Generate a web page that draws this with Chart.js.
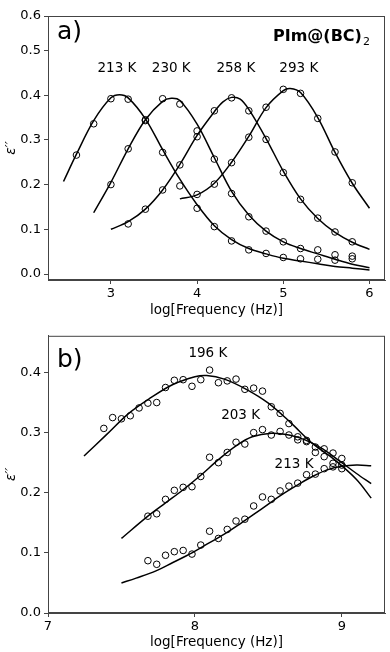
<!DOCTYPE html>
<html lang="en">
<head>
  <meta charset="UTF-8">
  <title>Dielectric loss peaks</title>
  <script src="https://cdn.jsdelivr.net/npm/chart.js"></script>
  <style>
    body {
      margin: 0;
      background: #fff;
      width: 390px;
      height: 652px;
      position: relative;
      overflow: hidden;
    }
    canvas {
      position: absolute;
      left: 0;
    }
    #chartA { top: 0; }
    #chartB { top: 325px; }
  </style>
</head>
<body>

  <canvas id="chartA" width="390" height="325"></canvas>
  <canvas id="chartB" width="390" height="327"></canvas>

  <script>
    // ---- panel a) ----
    const aTicksX = [3, 4, 5, 6];
    const aTicksY = [0, 0.1, 0.2, 0.3, 0.4, 0.5, 0.577];
    const aTickLabelsY = ["0.0", "0.1", "0.2", "0.3", "0.4", "0.5", "0.6"];

    const a213PtsX = [2.6, 2.8, 3.0, 3.2, 3.4, 3.6, 3.8, 4.0, 4.2, 4.4, 4.6, 4.8, 5.0, 5.2, 5.4, 5.6, 5.8];
    const a213PtsY = [0.266, 0.336, 0.392, 0.391, 0.345, 0.272, 0.197, 0.147, 0.106, 0.074, 0.054, 0.046, 0.037, 0.034, 0.033, 0.031, 0.034];
    const a230PtsX = [3.0, 3.2, 3.4, 3.6, 3.8, 4.0, 4.2, 4.4, 4.6, 4.8, 5.0, 5.2, 5.4, 5.6, 5.8];
    const a230PtsY = [0.200, 0.280, 0.343, 0.392, 0.380, 0.320, 0.257, 0.180, 0.128, 0.096, 0.072, 0.057, 0.054, 0.043, 0.040];
    const a258PtsX = [3.2, 3.4, 3.6, 3.8, 4.0, 4.2, 4.4, 4.6, 4.8, 5.0, 5.2, 5.4, 5.6, 5.8];
    const a258PtsY = [0.112, 0.145, 0.188, 0.244, 0.307, 0.365, 0.394, 0.365, 0.301, 0.227, 0.167, 0.125, 0.094, 0.072];
    const a293PtsX = [4.0, 4.2, 4.4, 4.6, 4.8, 5.0, 5.2, 5.4, 5.6, 5.8];
    const a293PtsY = [0.178, 0.201, 0.249, 0.306, 0.373, 0.413, 0.404, 0.348, 0.273, 0.204];

    const a213FitX = [2.45, 2.6, 2.8, 3.0, 3.1, 3.2, 3.4, 3.6, 3.8, 4.0, 4.2, 4.4, 4.6, 4.8, 5.0, 5.2, 5.4, 5.6, 5.8, 6.0];
    const a213FitY = [0.207, 0.268, 0.343, 0.394, 0.401, 0.394, 0.347, 0.278, 0.212, 0.155, 0.108, 0.077, 0.057, 0.045, 0.035, 0.029, 0.023, 0.017, 0.013, 0.009];
    const a230FitX = [2.8, 3.0, 3.2, 3.4, 3.6, 3.7, 3.8, 4.0, 4.2, 4.4, 4.6, 4.8, 5.0, 5.2, 5.4, 5.6, 5.8, 6.0];
    const a230FitY = [0.137, 0.205, 0.280, 0.345, 0.386, 0.393, 0.388, 0.335, 0.260, 0.185, 0.132, 0.096, 0.072, 0.057, 0.045, 0.033, 0.022, 0.014];
    const a258FitX = [3.0, 3.2, 3.4, 3.6, 3.8, 4.0, 4.2, 4.3, 4.4, 4.5, 4.6, 4.8, 5.0, 5.2, 5.4, 5.6, 5.8, 6.0];
    const a258FitY = [0.100, 0.117, 0.145, 0.188, 0.245, 0.310, 0.363, 0.385, 0.395, 0.391, 0.368, 0.303, 0.230, 0.168, 0.124, 0.093, 0.071, 0.055];
    const a293FitX = [3.8, 4.0, 4.2, 4.4, 4.6, 4.8, 5.0, 5.08, 5.2, 5.4, 5.6, 5.8, 6.0];
    const a293FitY = [0.168, 0.177, 0.203, 0.250, 0.308, 0.372, 0.410, 0.415, 0.406, 0.350, 0.272, 0.203, 0.147];

    const aLabelText = ["213 K", "230 K", "258 K", "293 K"];
    const aLabelX = [3.07, 3.70, 4.45, 5.18];
    const aLabelY = [0.459, 0.459, 0.459, 0.459];

    // ---- panel b) ----
    const bTicksX = [7, 8, 9];
    const bTicksY = [0, 0.1, 0.2, 0.3, 0.4];

    const b196PtsX = [7.38, 7.44, 7.50, 7.56, 7.62, 7.68, 7.74, 7.80, 7.86, 7.92, 7.98, 8.04, 8.10, 8.16, 8.22, 8.28, 8.34, 8.40, 8.46, 8.52, 8.58, 8.64, 8.70, 8.76, 8.82, 8.88, 8.94, 9.00];
    const b196PtsY = [0.307, 0.325, 0.323, 0.328, 0.341, 0.349, 0.350, 0.375, 0.387, 0.388, 0.377, 0.388, 0.404, 0.383, 0.386, 0.389, 0.372, 0.374, 0.369, 0.343, 0.332, 0.315, 0.293, 0.287, 0.276, 0.273, 0.266, 0.257];
    const b203PtsX = [7.68, 7.74, 7.80, 7.86, 7.92, 7.98, 8.04, 8.10, 8.16, 8.22, 8.28, 8.34, 8.40, 8.46, 8.52, 8.58, 8.64, 8.70, 8.76, 8.82, 8.88, 8.94, 9.00];
    const b203PtsY = [0.161, 0.165, 0.189, 0.204, 0.209, 0.210, 0.227, 0.259, 0.250, 0.267, 0.284, 0.281, 0.300, 0.305, 0.296, 0.302, 0.296, 0.288, 0.285, 0.267, 0.260, 0.249, 0.240];
    const b213PtsX = [7.68, 7.74, 7.80, 7.86, 7.92, 7.98, 8.04, 8.10, 8.16, 8.22, 8.28, 8.34, 8.40, 8.46, 8.52, 8.58, 8.64, 8.70, 8.76, 8.82, 8.88, 8.94, 9.00];
    const b213PtsY = [0.087, 0.081, 0.096, 0.102, 0.104, 0.098, 0.113, 0.136, 0.124, 0.139, 0.153, 0.156, 0.178, 0.193, 0.189, 0.203, 0.211, 0.216, 0.230, 0.231, 0.240, 0.243, 0.246];

    const b196FitX = [7.245, 7.4, 7.55, 7.7, 7.85, 8.0, 8.08, 8.2, 8.35, 8.5, 8.65, 8.8, 8.95, 9.1, 9.2];
    const b196FitY = [0.261, 0.297, 0.332, 0.358, 0.380, 0.393, 0.395, 0.389, 0.372, 0.349, 0.317, 0.282, 0.255, 0.222, 0.191];
    const b203FitX = [7.5, 7.68, 7.8, 7.92, 8.04, 8.16, 8.28, 8.39, 8.52, 8.64, 8.75, 8.87, 9.0, 9.1, 9.2];
    const b203FitY = [0.124, 0.161, 0.183, 0.205, 0.229, 0.255, 0.278, 0.293, 0.299, 0.296, 0.288, 0.273, 0.250, 0.232, 0.215];
    const b213FitX = [7.5, 7.6, 7.735, 7.85, 7.98, 8.1, 8.2, 8.3, 8.4, 8.5, 8.6, 8.7, 8.8, 8.9, 9.0, 9.1, 9.2];
    const b213FitY = [0.050, 0.058, 0.070, 0.084, 0.100, 0.117, 0.131, 0.147, 0.164, 0.181, 0.198, 0.213, 0.227, 0.238, 0.244, 0.246, 0.245];

    const bLabelText = ["196 K", "203 K", "213 K"];
    const bLabelX = [8.088, 8.311, 8.675];
    const bLabelY = [0.431, 0.328, 0.247];

    const FONT = "'DejaVu Sans', sans-serif";
    const FRAME = "#444";

    function pts(xs, ys) {
      return xs.map((x, i) => ({ x: x, y: ys[i] }));
    }

    function fitSet(xs, ys) {
      return {
        data: pts(xs, ys),
        borderColor: "#000",
        borderWidth: 1.5,
        pointRadius: 0,
        fill: false,
        tension: 0.35
      };
    }

    function pointSet(xs, ys) {
      return {
        data: pts(xs, ys),
        showLine: false,
        pointRadius: 3.3,
        pointBorderWidth: 1,
        pointBorderColor: "#000",
        pointBackgroundColor: "rgba(0,0,0,0)"
      };
    }

    // box around plot area + text labels
    const panelDecor = {
      id: "panelDecor",
      afterDatasetsDraw(chart, args, opts) {
        const ctx = chart.ctx;
        const a = chart.chartArea;
        const sx = chart.scales.x, sy = chart.scales.y;
        ctx.save();
        ctx.strokeStyle = FRAME;
        ctx.lineWidth = 1;
        ctx.strokeRect(a.left + 0.5, a.top + 0.5, a.right - a.left - 1, a.bottom - a.top - 1);

        ctx.fillStyle = "#000";
        ctx.textAlign = "center";
        ctx.textBaseline = "middle";
        ctx.font = "13.5px " + FONT;
        opts.labels.forEach((t, i) => {
          ctx.fillText(t, sx.getPixelForValue(opts.labelX[i]), sy.getPixelForValue(opts.labelY[i]));
        });

        ctx.textAlign = "left";
        ctx.font = "25px " + FONT;
        ctx.fillText(opts.tag, a.left + 9, a.top + opts.tagDy);

        if (opts.sample) {
          ctx.font = "bold 16px " + FONT;
          ctx.fillText(opts.sample, a.left + 225, a.top + 21);
          const w = ctx.measureText(opts.sample).width;
          ctx.font = "11px " + FONT;
          ctx.fillText("2", a.left + 225 + w + 1, a.top + 26);
        }
        ctx.restore();
      }
    };

    function makeChart(id, cfg) {
      const tickFont = { family: FONT, size: 13 };
      return new Chart(document.getElementById(id), {
        type: "line",
        data: { datasets: cfg.datasets },
        options: {
          responsive: false,
          animation: false,
          layout: { padding: { top: cfg.padTop, right: 2, left: 0, bottom: 0 } },
          plugins: {
            legend: { display: false },
            tooltip: { enabled: false },
            panelDecor: cfg.decor
          },
          scales: {
            x: {
              type: "linear",
              min: cfg.xMin,
              max: cfg.xMax,
              afterBuildTicks: s => { s.ticks = cfg.ticksX.map(v => ({ value: v })); },
              afterFit: s => { s.height = cfg.xHeight; },
              ticks: { color: "#000", font: tickFont, padding: 2, maxRotation: 0 },
              grid: { drawOnChartArea: false, drawTicks: true, tickLength: 4, color: FRAME },
              border: { display: true, color: FRAME },
              title: {
                display: true,
                text: "log[Frequency (Hz)]",
                color: "#000",
                font: { family: FONT, size: 13.5 },
                padding: { top: 0, bottom: cfg.xTitlePad }
              }
            },
            y: {
              type: "linear",
              min: cfg.yMin,
              max: cfg.yMax,
              afterBuildTicks: s => { s.ticks = cfg.ticksY.map(v => ({ value: v })); },
              afterFit: s => { s.width = 48; },
              ticks: {
                color: "#000",
                font: tickFont,
                padding: 3,
                callback: (v, i) => cfg.tickLabelsY ? cfg.tickLabelsY[i] : v.toFixed(1)
              },
              grid: { drawOnChartArea: false, drawTicks: true, tickLength: 4, color: FRAME },
              border: { display: true, color: FRAME },
              title: {
                display: true,
                text: "ε′′",
                color: "#000",
                font: { family: FONT, size: 13.5, style: "italic" },
                padding: { top: 3, bottom: 0 }
              }
            }
          }
        },
        plugins: [panelDecor]
      });
    }

    makeChart("chartA", {
      datasets: [
        fitSet(a213FitX, a213FitY), fitSet(a230FitX, a230FitY),
        fitSet(a258FitX, a258FitY), fitSet(a293FitX, a293FitY),
        pointSet(a213PtsX, a213PtsY), pointSet(a230PtsX, a230PtsY),
        pointSet(a258PtsX, a258PtsY), pointSet(a293PtsX, a293PtsY)
      ],
      padTop: 16,
      xMin: 2.27, xMax: 6.18, ticksX: aTicksX, xHeight: 45, xTitlePad: 6,
      yMin: -0.0134, yMax: 0.577, ticksY: aTicksY, tickLabelsY: aTickLabelsY,
      decor: { labels: aLabelText, labelX: aLabelX, labelY: aLabelY, tag: "a)", tagDy: 16, sample: "PIm@(BC)" }
    });

    makeChart("chartB", {
      datasets: [
        fitSet(b196FitX, b196FitY), fitSet(b203FitX, b203FitY), fitSet(b213FitX, b213FitY),
        pointSet(b196PtsX, b196PtsY), pointSet(b203PtsX, b203PtsY), pointSet(b213PtsX, b213PtsY)
      ],
      padTop: 8,
      xMin: 7, xMax: 9.294, ticksX: bTicksX, xHeight: 39, xTitlePad: 1,
      yMin: 0, yMax: 0.461, ticksY: bTicksY, tickLabelsY: null,
      decor: { labels: bLabelText, labelX: bLabelX, labelY: bLabelY, tag: "b)", tagDy: 25, sample: null }
    });
  </script>
</body>
</html>
